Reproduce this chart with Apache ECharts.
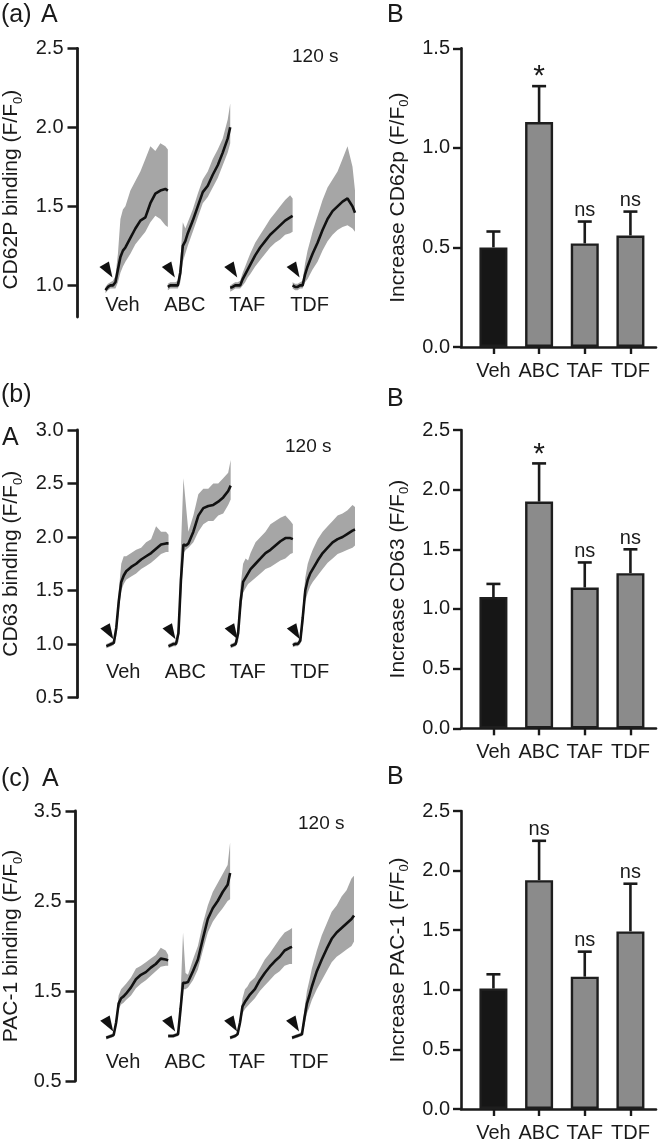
<!DOCTYPE html>
<html><head><meta charset="utf-8">
<script src="https://cdn.jsdelivr.net/npm/echarts@6/dist/echarts.min.js"></script>
<style>html,body{margin:0;padding:0;background:#fff}#c{width:666px;height:1143px}</style>
</head><body><div id="c"></div>
<script>
// ---------- data ----------
const groups = ['Veh', 'ABC', 'TAF', 'TDF'];
const traceOffsets = [0, 125, 250, 375];           // s, start of each trace on the time axis
const times = [0,5,10,15,20,25,30,35,40,50,60,70,80,90,100,110,120,125]; // s within a trace

// (a) CD62P binding (F/F0): mean and band edges
const cd62pVehMean  = [0.97,0.99,1.00,1.00,1.02,1.10,1.18,1.22,1.24,1.30,1.36,1.41,1.43,1.52,1.58,1.60,1.61,1.60];
const cd62pVehUpper = [0.99,1.01,1.02,1.03,1.06,1.20,1.42,1.48,1.50,1.60,1.66,1.72,1.80,1.88,1.85,1.90,1.88,1.86];
const cd62pVehLower = [0.95,0.97,0.98,0.98,0.98,1.02,1.08,1.12,1.15,1.20,1.26,1.30,1.34,1.40,1.44,1.42,1.38,1.37];
const cd62pAbcMean  = [0.99,1.00,1.00,1.00,1.00,1.08,1.25,1.28,1.33,1.41,1.50,1.59,1.63,1.70,1.76,1.84,1.93,2.00];
const cd62pAbcUpper = [1.01,1.02,1.02,1.02,1.03,1.15,1.40,1.36,1.40,1.48,1.58,1.67,1.72,1.80,1.86,1.93,2.05,2.15];
const cd62pAbcLower = [0.97,0.98,0.98,0.98,0.98,1.02,1.15,1.20,1.25,1.34,1.43,1.52,1.56,1.62,1.68,1.76,1.84,1.90];
const cd62pTafMean  = [0.985,0.99,1.00,1.00,1.00,1.04,1.07,1.10,1.13,1.19,1.24,1.28,1.32,1.35,1.38,1.41,1.43,1.44];
const cd62pTafUpper = [1.00,1.01,1.02,1.02,1.03,1.08,1.12,1.16,1.20,1.27,1.32,1.37,1.42,1.46,1.50,1.54,1.57,1.55];
const cd62pTafLower = [0.96,0.97,0.98,0.98,0.98,1.00,1.02,1.05,1.07,1.12,1.16,1.20,1.24,1.27,1.29,1.32,1.33,1.34];
const cd62pTdfMean  = [1.00,0.99,0.99,1.00,1.00,1.07,1.12,1.16,1.20,1.27,1.35,1.42,1.47,1.50,1.53,1.55,1.50,1.46];
const cd62pTdfUpper = [1.02,1.01,1.01,1.02,1.03,1.14,1.22,1.28,1.34,1.44,1.54,1.62,1.67,1.72,1.80,1.88,1.75,1.60];
const cd62pTdfLower = [0.98,0.97,0.97,0.98,0.98,1.02,1.04,1.07,1.10,1.15,1.22,1.28,1.32,1.35,1.37,1.38,1.36,1.34];

// (b) CD63 binding (F/F0)
const cd63VehMean  = [0.98,0.99,1.00,1.01,1.15,1.40,1.58,1.64,1.68,1.72,1.75,1.79,1.82,1.85,1.89,1.93,1.94,1.94];
const cd63VehUpper = [1.00,1.01,1.02,1.03,1.20,1.50,1.75,1.82,1.82,1.85,1.88,1.90,1.95,1.98,2.10,2.05,2.05,2.02];
const cd63VehLower = [0.96,0.97,0.98,0.99,1.08,1.30,1.50,1.56,1.60,1.63,1.66,1.70,1.73,1.76,1.80,1.84,1.86,1.86];
const cd63AbcMean  = [0.98,0.99,1.00,1.00,1.10,1.60,1.93,1.92,1.94,2.05,2.20,2.27,2.29,2.30,2.33,2.37,2.43,2.48];
const cd63AbcUpper = [1.00,1.01,1.02,1.02,1.20,1.90,2.55,2.30,2.05,2.20,2.40,2.45,2.45,2.50,2.50,2.55,2.60,2.72];
const cd63AbcLower = [0.96,0.97,0.98,0.98,1.02,1.40,1.85,1.88,1.90,1.95,2.05,2.12,2.15,2.15,2.20,2.22,2.30,2.35];
const cd63TafMean  = [0.98,0.99,1.00,1.10,1.40,1.58,1.62,1.66,1.70,1.75,1.80,1.85,1.88,1.92,1.96,1.99,1.99,1.98];
const cd63TafUpper = [1.00,1.01,1.02,1.20,1.55,1.75,1.80,1.78,1.85,1.95,2.00,2.05,2.12,2.15,2.18,2.20,2.15,2.12];
const cd63TafLower = [0.96,0.97,0.98,1.02,1.30,1.48,1.52,1.56,1.58,1.62,1.66,1.70,1.72,1.75,1.78,1.80,1.84,1.85];
const cd63TdfMean  = [0.99,1.00,1.00,1.03,1.25,1.50,1.60,1.66,1.70,1.78,1.85,1.90,1.95,1.98,2.00,2.03,2.06,2.07];
const cd63TdfUpper = [1.01,1.02,1.02,1.08,1.35,1.62,1.75,1.82,1.88,1.98,2.05,2.10,2.15,2.20,2.22,2.25,2.30,2.28];
const cd63TdfLower = [0.97,0.98,0.98,1.00,1.15,1.40,1.48,1.54,1.58,1.64,1.70,1.76,1.80,1.84,1.86,1.88,1.90,1.92];

// (c) PAC-1 binding (F/F0)
const pac1VehMean  = [0.98,0.99,1.00,1.01,1.15,1.36,1.42,1.44,1.47,1.54,1.63,1.68,1.71,1.76,1.80,1.86,1.85,1.84];
const pac1VehUpper = [1.00,1.01,1.02,1.03,1.20,1.45,1.52,1.55,1.58,1.65,1.75,1.78,1.82,1.86,1.90,1.98,1.95,1.90];
const pac1VehLower = [0.96,0.97,0.98,0.99,1.10,1.30,1.35,1.37,1.40,1.45,1.53,1.58,1.62,1.67,1.72,1.77,1.78,1.78];
const pac1AbcMean  = [1.00,1.00,1.00,1.01,1.02,1.30,1.59,1.59,1.60,1.72,1.85,2.08,2.30,2.42,2.50,2.60,2.68,2.81];
const pac1AbcUpper = [1.02,1.02,1.02,1.03,1.05,1.45,2.15,1.70,1.68,1.85,2.00,2.25,2.45,2.60,2.70,2.80,2.90,3.15];
const pac1AbcLower = [0.98,0.98,0.98,0.99,1.00,1.20,1.52,1.52,1.54,1.62,1.74,1.95,2.15,2.27,2.35,2.42,2.50,2.52];
const pac1TafMean  = [0.98,0.99,1.00,1.02,1.15,1.33,1.38,1.42,1.46,1.52,1.62,1.70,1.77,1.83,1.88,1.95,1.98,1.99];
const pac1TafUpper = [1.00,1.01,1.02,1.04,1.20,1.42,1.52,1.55,1.60,1.65,1.75,1.85,1.92,2.00,2.08,2.15,2.18,2.20];
const pac1TafLower = [0.96,0.97,0.98,1.00,1.10,1.25,1.30,1.33,1.36,1.42,1.50,1.56,1.62,1.68,1.72,1.78,1.80,1.80];
const pac1TdfMean  = [0.98,0.99,1.00,1.01,1.02,1.20,1.36,1.45,1.55,1.72,1.85,1.97,2.08,2.15,2.20,2.25,2.30,2.34];
const pac1TdfUpper = [1.00,1.01,1.02,1.03,1.05,1.30,1.50,1.62,1.75,1.95,2.12,2.25,2.38,2.45,2.55,2.62,2.75,2.78];
const pac1TdfLower = [0.96,0.97,0.98,0.99,1.00,1.12,1.25,1.32,1.40,1.52,1.62,1.72,1.82,1.88,1.92,1.96,2.00,2.05];

// Bar panels: increase (F/F0), mean and SEM
const cd62pIncrease = [0.50, 1.13, 0.52, 0.56];
const cd62pSem      = [0.08, 0.18, 0.11, 0.12];
const cd62pSig      = ['', '*', 'ns', 'ns'];
const cd63Increase  = [1.10, 1.90, 1.18, 1.30];
const cd63Sem       = [0.11, 0.32, 0.21, 0.20];
const cd63Sig       = ['', '*', 'ns', 'ns'];
const pac1Increase  = [1.01, 1.92, 1.11, 1.49];
const pac1Sem       = [0.12, 0.33, 0.21, 0.40];
const pac1Sig       = ['', 'ns', 'ns', 'ns'];

const ticksA_a = [1.0, 1.5, 2.0, 2.5];
const ticksA_c = [0.5, 1.5, 2.5, 3.5];
const barPositions = [1, 2, 3, 4];

// ---------- styling / layout ----------
const FONT = 'Liberation Sans, Arial, Helvetica, sans-serif';
const INK = '#1a1a1a';
const BAND = '#a6a6a6';
const PXS = 0.5;     // px per second on the trace axes
const XMAX = 500;

const panelsA = [
  {left:77, top:48.3, height:268.7, ymin:0.8, ymax:2.5, custom:ticksA_a, xmin:-56, namePad:14,
   name:'CD62P binding (F/F{sub|0})', nameGap:53, arrowY:1.10, labelY:0.875,
   means:[cd62pVehMean,cd62pAbcMean,cd62pTafMean,cd62pTdfMean],
   uppers:[cd62pVehUpper,cd62pAbcUpper,cd62pTafUpper,cd62pTdfUpper],
   lowers:[cd62pVehLower,cd62pAbcLower,cd62pTafLower,cd62pTdfLower]},
  {left:76, top:430, height:267.5, ymin:0.5, ymax:3.0, interval:0.5, xmin:-58, namePad:0,
   name:'CD63 binding (F/F{sub|0})', nameGap:53, arrowY:1.12, labelY:0.73,
   means:[cd63VehMean,cd63AbcMean,cd63TafMean,cd63TdfMean],
   uppers:[cd63VehUpper,cd63AbcUpper,cd63TafUpper,cd63TdfUpper],
   lowers:[cd63VehLower,cd63AbcLower,cd63TafLower,cd63TdfLower]},
  {left:73, top:811, height:270, ymin:0.5, ymax:3.5, custom:ticksA_c, xmin:-62, namePad:0,
   name:'PAC-1 binding (F/F{sub|0})', nameGap:51, arrowY:1.14, labelY:0.71,
   means:[pac1VehMean,pac1AbcMean,pac1TafMean,pac1TdfMean],
   uppers:[pac1VehUpper,pac1AbcUpper,pac1TafUpper,pac1TdfUpper],
   lowers:[pac1VehLower,pac1AbcLower,pac1TafLower,pac1TdfLower]}
];
const panelsB = [
  {top:48.3, height:298.7, ymax:1.5, vals:cd62pIncrease, sem:cd62pSem, sig:cd62pSig, name:'Increase CD62p (F/F{sub|0})'},
  {top:430, height:298.3, ymax:2.5, vals:cd63Increase, sem:cd63Sem, sig:cd63Sig, name:'Increase CD63 (F/F{sub|0})'},
  {top:811, height:299, ymax:2.5, vals:pac1Increase, sem:pac1Sem, sig:pac1Sig, name:'Increase PAC-1 (F/F{sub|0})'}
];

const nameStyle = pad => ({fontSize:21, color:INK, fontFamily:FONT, padding:[0, pad, 0, 0],
  rich:{sub:{fontSize:13, color:INK, fontFamily:FONT, verticalAlign:'bottom', lineHeight:26}}});

const grid = [], xAxis = [], yAxis = [], series = [];
let gi = 0;
panelsA.forEach((p, k) => {
  const A = gi++;
  grid.push({left:p.left, top:p.top, width:(XMAX - p.xmin) * PXS, height:p.height, containLabel:false});
  xAxis.push({type:'value', gridIndex:A, min:p.xmin, max:XMAX, show:false});
  const ya = {type:'value', gridIndex:A, min:p.ymin, max:p.ymax,
    axisLine:{show:true, onZero:false, lineStyle:{color:INK, width:2.8}},
    axisTick:{show:true, length:10, lineStyle:{color:INK, width:2.5}},
    axisLabel:{fontSize:20, color:INK, fontFamily:FONT, margin:14, formatter:v => v.toFixed(1)},
    splitLine:{show:false},
    name:p.name, nameLocation:'middle', nameGap:p.nameGap, nameTextStyle:nameStyle(p.namePad)};
  if (p.custom) { ya.axisTick.customValues = p.custom; ya.axisLabel.customValues = p.custom; }
  else ya.interval = p.interval;
  yAxis.push(ya);
  for (let i = 0; i < 4; i++) {
    const off = traceOffsets[i], up = p.uppers[i], lo = p.lowers[i];
    series.push({type:'custom', xAxisIndex:A, yAxisIndex:A, silent:true, z:1,
      data:[[off, up[0]]],
      renderItem:(params, api) => {
        const pts = [];
        for (let j = 0; j < times.length; j++) pts.push(api.coord([off + times[j], up[j]]));
        for (let j = times.length - 1; j >= 0; j--) pts.push(api.coord([off + times[j], lo[j]]));
        return {type:'polygon', shape:{points:pts}, style:{fill:BAND}};
      }});
    series.push({type:'line', xAxisIndex:A, yAxisIndex:A, z:3, showSymbol:false, silent:true,
      data:times.map((t, j) => [off + t, p.means[i][j]]),
      lineStyle:{color:'#111', width:2.6}});
  }
  series.push({type:'scatter', xAxisIndex:A, yAxisIndex:A, z:4, silent:true,
    symbol:'path://M8,0 L0,5 L11,15 Z', symbolSize:[13,16],
    itemStyle:{color:'#111', opacity:1},
    data:traceOffsets.map(o => [o + 1, p.arrowY])});
  series.push({type:'scatter', xAxisIndex:A, yAxisIndex:A, z:4, silent:true, symbolSize:0,
    itemStyle:{opacity:1},
    data:traceOffsets.map(o => [o + 34, p.labelY]),
    label:{show:true, position:'inside', fontSize:20, color:INK, fontFamily:FONT,
      formatter:pp => groups[pp.dataIndex]}});

  const b = panelsB[k];
  const B = gi++;
  grid.push({left:461, top:b.top, width:195, height:b.height, containLabel:false});
  xAxis.push({type:'value', gridIndex:B, min:0.29, max:4.56,
    axisLine:{show:true, onZero:false, lineStyle:{color:INK, width:2.6}},
    axisTick:{show:true, length:7, customValues:barPositions, lineStyle:{color:INK, width:2.4}},
    axisLabel:{show:true, customValues:barPositions, fontSize:20, color:INK, fontFamily:FONT, margin:14,
      formatter:v => groups[Math.round(v) - 1]},
    splitLine:{show:false}});
  yAxis.push({type:'value', gridIndex:B, min:0, max:b.ymax, interval:0.5,
    axisLine:{show:true, onZero:false, lineStyle:{color:INK, width:2.6}},
    axisTick:{show:true, length:8, lineStyle:{color:INK, width:2.4}},
    axisLabel:{fontSize:20, color:INK, fontFamily:FONT, margin:11, formatter:v => v.toFixed(1)},
    splitLine:{show:false},
    name:b.name, nameLocation:'middle', nameGap:50, nameTextStyle:nameStyle(0)});
  series.push({type:'custom', xAxisIndex:B, yAxisIndex:B, z:1, silent:true,
    data:barPositions.map((x, i) => [x, b.vals[i], b.vals[i] + b.sem[i]]),
    renderItem:(params, api) => {
      const p0 = api.coord([api.value(0), api.value(1)]);
      const p1 = api.coord([api.value(0), api.value(2)]);
      const st = {stroke:INK, lineWidth:2.6};
      return {type:'group', children:[
        {type:'line', shape:{x1:p0[0], y1:p0[1], x2:p1[0], y2:p1[1]}, style:st},
        {type:'line', shape:{x1:p1[0] - 7, y1:p1[1], x2:p1[0] + 7, y2:p1[1]}, style:st}]};
    }});
  series.push({type:'bar', xAxisIndex:B, yAxisIndex:B, z:2, silent:true, barWidth:28,
    data:barPositions.map((x, i) => [x, b.vals[i]]),
    itemStyle:{color:pp => pp.dataIndex === 0 ? '#161616' : '#8b8b8b', borderColor:'#1e1e1e', borderWidth:2.4}});
  series.push({type:'scatter', xAxisIndex:B, yAxisIndex:B, z:4, silent:true, symbolSize:0,
    itemStyle:{opacity:1},
    data:barPositions.map((x, i) => [x, b.vals[i] + b.sem[i]]),
    label:{show:true, position:'top', distance:1, color:INK, fontFamily:FONT,
      formatter:pp => b.sig[pp.dataIndex] === '*' ? '{star|*}' : (b.sig[pp.dataIndex] ? '{ns|ns}' : ''),
      rich:{star:{fontSize:30, color:INK, fontFamily:FONT, lineHeight:22, padding:[0,0,-6,0]},
            ns:{fontSize:20, color:INK, fontFamily:FONT}}}});
});

const tStyle = {fontSize:25, fontWeight:'normal', color:INK, fontFamily:FONT};
const sStyle = {fontSize:19, fontWeight:'normal', color:INK, fontFamily:FONT};
const title = [
  {text:'(a)', left:1, top:3, padding:0, textStyle:tStyle},
  {text:'A', left:41, top:3, padding:0, textStyle:tStyle},
  {text:'B', left:387, top:3, padding:0, textStyle:tStyle},
  {text:'120 s', left:292, top:47, padding:0, textStyle:sStyle},
  {text:'(b)', left:1, top:383, padding:0, textStyle:tStyle},
  {text:'A', left:2, top:426, padding:0, textStyle:tStyle},
  {text:'B', left:387, top:387, padding:0, textStyle:tStyle},
  {text:'120 s', left:285, top:437, padding:0, textStyle:sStyle},
  {text:'(c)', left:1, top:767, padding:0, textStyle:tStyle},
  {text:'A', left:42, top:767, padding:0, textStyle:tStyle},
  {text:'B', left:387, top:765, padding:0, textStyle:tStyle},
  {text:'120 s', left:298, top:814, padding:0, textStyle:sStyle}
];

const chart = echarts.init(document.getElementById('c'), null, {renderer:'canvas'});
chart.setOption({animation:false, backgroundColor:'#fff', title, grid, xAxis, yAxis, series});
</script></body></html>
